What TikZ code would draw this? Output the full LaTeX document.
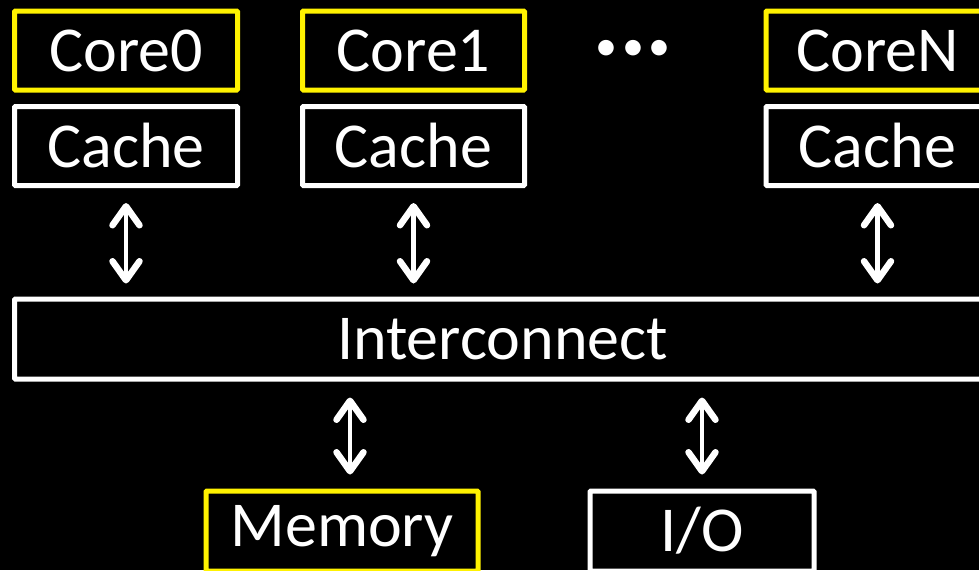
\documentclass[tikz,border=0pt]{standalone}
\usepackage{fontspec}
\setmainfont{Carlito}
\usetikzlibrary{arrows.meta}
\tikzset{
  box/.style={draw=#1, fill=black, line width=5pt, rounded corners=1pt, text=white,
    font=\fontsize{64}{64}\selectfont, inner sep=0pt, minimum height=79pt},
  arr/.style={draw=white, line width=4.5pt, {Straight Barb[round,length=19pt,width=27pt,line width=6.5pt]}-{Straight Barb[round,length=19pt,width=27pt,line width=6.5pt]}},
}
\begin{document}
\begin{tikzpicture}[x=1pt,y=-1pt]
\useasboundingbox[fill=black] (0,0) rectangle (979,570);
\node[box=yellow, minimum width=223pt] (core0) at (126,50.5) {Core0};
\node[box=yellow, minimum width=222pt] (core1) at (413.5,50.5) {Core1};
\node[box=yellow, minimum width=223pt] (coreN) at (877.5,50.5) {CoreN};
\node[box=white, minimum width=223pt] (cache0) at (126,146) {Cache};
\node[box=white, minimum width=222pt] (cache1) at (413.5,146) {Cache};
\node[box=white, minimum width=223pt] (cacheN) at (877.5,146) {Cache};
\node[text=white, font=\fontsize{44}{44}\selectfont, inner sep=0pt, anchor=base] (dots) at (633,60) {•\kern5pt•\kern5pt•};
\node[box=white, minimum width=976pt, minimum height=80pt] (ic) at (502.5,339) {Interconnect};
\node[box=yellow, minimum width=272pt, minimum height=80pt] (mem) at (342,531) {Memory};
\node[box=white, minimum width=224pt, minimum height=80pt] (io) at (702,531) {I/O};
\foreach \c in {cache0,cache1,cacheN}
  \draw[arr, shorten <=15pt, shorten >=13pt] (\c.south) -- (\c.south |- ic.north);
\draw[arr, shorten <=16pt, shorten >=14pt] ([xshift=8pt]ic.south -| mem.north) -- ([xshift=8pt]mem.north);
\draw[arr, shorten <=16pt, shorten >=14pt] (ic.south -| io.north) -- (io.north);
\end{tikzpicture}
\end{document}
